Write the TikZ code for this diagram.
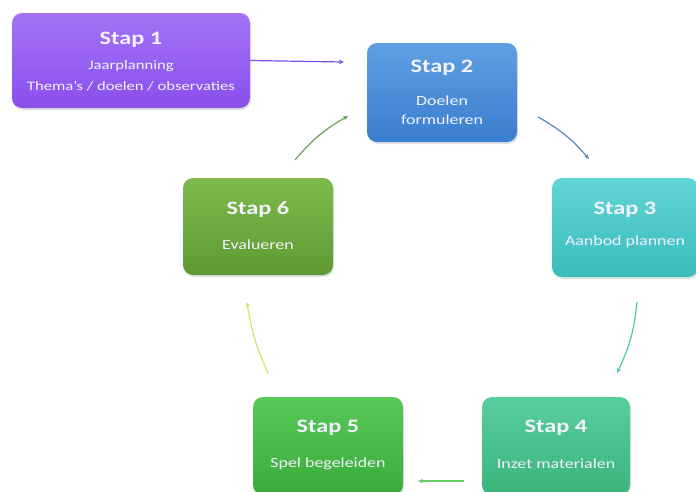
\documentclass[tikz,border=0pt]{standalone}
\usepackage{fontspec}
\setmainfont{Carlito}
\usetikzlibrary{arrows.meta,shadows,calc}
\newcommand{\sxw}[1]{\scalebox{1.28}[1]{#1}}
\definecolor{cA1}{HTML}{A373F6}\definecolor{cA2}{HTML}{8A4FEC}
\definecolor{cB1}{HTML}{5EA0E2}\definecolor{cB2}{HTML}{3A7ECF}
\definecolor{cC1}{HTML}{62D5D5}\definecolor{cC2}{HTML}{3BBCBC}
\definecolor{cD1}{HTML}{58CE9E}\definecolor{cD2}{HTML}{3AB47A}
\definecolor{cE1}{HTML}{58C858}\definecolor{cE2}{HTML}{3AAC3A}
\definecolor{cF1}{HTML}{7DBA4C}\definecolor{cF2}{HTML}{5E9A32}
\definecolor{txt}{HTML}{F4F2FF}
\definecolor{aA}{HTML}{7B50E2}\definecolor{aB}{HTML}{5F86B8}
\definecolor{aC}{HTML}{4CCBA8}\definecolor{aD}{HTML}{6ACD6A}
\definecolor{aE}{HTML}{CFE46A}\definecolor{aF}{HTML}{6E9E5E}
\tikzset{
  box/.style={rectangle, rounded corners=10pt, inner sep=0pt,
    drop shadow={opacity=0.22, shadow xshift=1pt, shadow yshift=-2pt}},
  ttl/.style={text=txt, font=\fontsize{19}{21}\selectfont\bfseries, inner sep=0pt},
  sub/.style={text=txt, font=\fontsize{14}{19}\selectfont, align=center, inner sep=0pt},
  arr/.style={line width=1.2pt, -{Stealth[length=5pt,width=4.5pt]}},
}
\begin{document}
\begin{tikzpicture}[x=1pt,y=-1pt]
\useasboundingbox (0,0) rectangle (696,491);
\clip (0,0) rectangle (696,491);
\fill[white] (0,0) rectangle (696,491);
% boxes
\node[box, minimum width=238pt, minimum height=95pt, top color=cA1, bottom color=cA2] (s1) at (131,60.5) {};
\node[box, minimum width=150pt, minimum height=99pt, top color=cB1, bottom color=cB2] (s2) at (442,92.5) {};
\node[box, minimum width=146pt, minimum height=99pt, top color=cC1, bottom color=cC2] (s3) at (625,227.5) {};
\node[box, minimum width=150pt, minimum height=97pt, top color=cF1, bottom color=cF2] (s6) at (258,226.5) {};
\node[box, minimum width=150pt, minimum height=98pt, top color=cE1, bottom color=cE2] (s5) at (328,446) {};
\node[box, minimum width=148pt, minimum height=98pt, top color=cD1, bottom color=cD2] (s4) at (556,446) {};
% texts
\node[ttl] (t1) at (131,40) {\sxw{Stap 1}};
\node[sub, font=\fontsize{13}{19}\selectfont] (u1a) at (131,66) {\sxw{Jaarplanning}};
\node[sub, font=\fontsize{13}{19}\selectfont] (u1b) at (131,86) {\sxw{Thema's / doelen / observaties}};
\node[ttl] (t2) at (442,68) {\sxw{Stap 2}};
\node[sub] (u2) at (442,110) {\sxw{Doelen}\\\sxw{formuleren}};
\node[ttl] (t3) at (625,210) {\sxw{Stap 3}};
\node[sub] (u3) at (625,242) {\sxw{Aanbod plannen}};
\node[ttl] (t6) at (258,210) {\sxw{Stap 6}};
\node[sub] (u6) at (258,245) {\sxw{Evalueren}};
\node[ttl] (t5) at (328,428) {\sxw{Stap 5}};
\node[sub] (u5) at (328,464) {\sxw{Spel begeleiden}};
\node[ttl] (t4) at (556,428) {\sxw{Stap 4}};
\node[sub] (u4) at (556,464) {\sxw{Inzet materialen}};
% arrow end points
\coordinate (p12) at (344,62);
\coordinate (a23) at (538,117); \coordinate (b23) at (589,159);
\coordinate (a34) at (637,302); \coordinate (b34) at (617,373);
\coordinate (a45) at (464,481); \coordinate (b45) at (418,481);
\coordinate (a56) at (268,373); \coordinate (b56) at (247,302);
\coordinate (a62) at (295,160); \coordinate (b62) at (348,116);
% arrows
\draw[arr, aA] (s1.east) -- (p12);
\draw[arr, aB] (a23) to[bend left=10] (b23);
\draw[arr, aC] (a34) to[bend left=10] (b34);
\draw[arr, aD] (a45) -- (b45);
\draw[arr, aE] (a56) to[bend left=8] (b56);
\draw[arr, aF] (a62) to[bend left=10] (b62);
\end{tikzpicture}
\end{document}
